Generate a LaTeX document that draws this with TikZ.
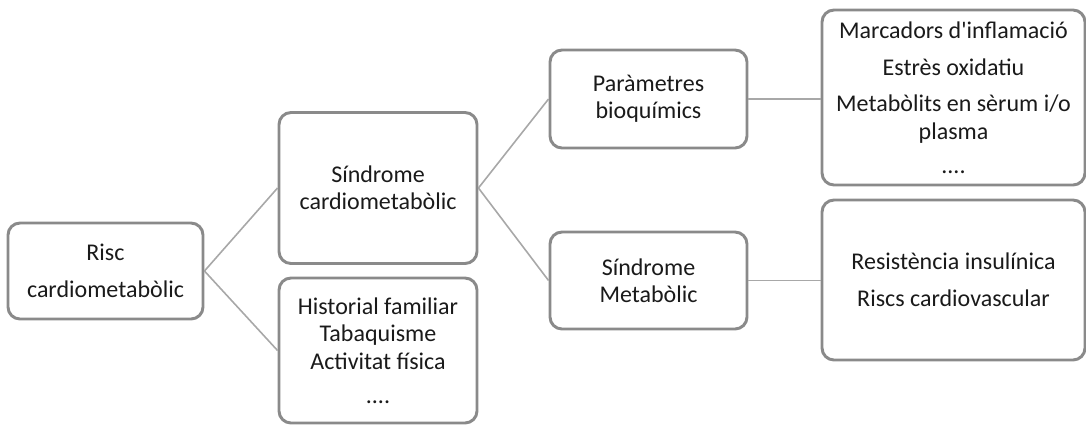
\documentclass[tikz,border=0pt]{standalone}
\usepackage{fontspec}
\setmainfont{Carlito}
\definecolor{boxline}{HTML}{8A8A8A}
\definecolor{conn}{HTML}{A8A8A8}
\definecolor{txt}{HTML}{1A1A1A}
\begin{document}
\begin{tikzpicture}[x=0.75pt,y=-0.75pt,
  box/.style={draw=boxline, line width=2.2pt, rounded corners=9pt, fill=white,
    align=center, inner sep=0pt, text=txt, font=\fontsize{18}{20.5}\selectfont},
  link/.style={draw=conn, line width=1.2pt}]
\useasboundingbox (0,0) rectangle (1086,426);
\node[box, minimum width=195*0.75pt, minimum height=96*0.75pt] (risc) at (105.5,271)
  {Risc\\[7.5pt]cardiometabòlic};
\node[box, minimum width=198*0.75pt, minimum height=151*0.75pt] (sc) at (378,188)
  {Síndrome\\cardiometabòlic};
\node[box, minimum width=198*0.75pt, minimum height=145*0.75pt] (hist) at (378,350.5)
  {Historial familiar\\Tabaquisme\\Activitat física\\[5pt]....};
\node[box, minimum width=197*0.75pt, minimum height=98*0.75pt] (pb) at (648.5,99)
  {Paràmetres\\bioquímics};
\node[box, minimum width=197*0.75pt, minimum height=97*0.75pt] (sm) at (648.5,280.5)
  {Síndrome\\Metabòlic};
\node[box, minimum width=263*0.75pt, minimum height=175*0.75pt] (mi) at (953.5,97.5)
  {Marcadors d\textquotesingle inflamació\\[7pt]Estrès oxidatiu\\[7pt]Metabòlits en sèrum i/o\\plasma\\[5pt]....};
\node[box, minimum width=263*0.75pt, minimum height=160*0.75pt] (ri) at (953.5,280)
  {Resistència insulínica\\[7pt]Riscs cardiovascular};
\draw[link] (risc.east) -- (sc.west);
\draw[link] (risc.east) -- (hist.west);
\draw[link] (sc.east) -- (pb.west);
\draw[link] (sc.east) -- (sm.west);
\draw[link] (pb.east) -- (pb.east -| mi.west);
\draw[link] (sm.east) -- (sm.east -| ri.west);
\end{tikzpicture}
\end{document}
